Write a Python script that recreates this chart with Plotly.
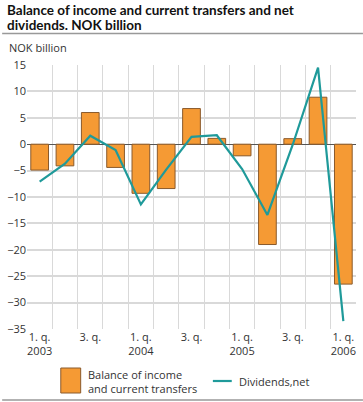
import plotly.graph_objects as go

quarters = ["1. q. 2003", "2. q. 2003", "3. q. 2003", "4. q. 2003",
            "1. q. 2004", "2. q. 2004", "3. q. 2004", "4. q. 2004",
            "1. q. 2005", "2. q. 2005", "3. q. 2005", "4. q. 2005",
            "1. q. 2006"]
balance = [-4.9, -4.1, 6.0, -4.4, -9.3, -8.4, 6.75, 1.1, -2.2, -19.0, 1.05, 8.9, -26.5]
dividends = [-7.1, -3.7, 1.6, -1.1, -11.4, -4.8, 1.4, 1.7, -4.7, -13.4, -0.1, 14.5, -33.5]
tick_labels = ["1. q.<br>2003", "3. q.", "1. q.<br>2004", "3. q.", "1. q.<br>2005", "3. q.", "1. q.<br>2006"]
y_ticks = [15, 10, 5, 0, -5, -10, -15, -20, -25, -30, -35]

FONT = "Open Sans"
ORANGE = "#f59a34"
TEAL = "#1f9a9a"
GRID = "#d9d9d9"

xs = list(range(len(quarters)))

fig = go.Figure()
fig.add_trace(go.Bar(x=xs, y=balance, width=0.7, marker=dict(color=ORANGE, line=dict(color="#8a5a2c", width=1)),
                     name="Balance of income and current transfers", showlegend=False))
fig.add_trace(go.Scatter(x=xs, y=dividends, mode="lines", line=dict(color=TEAL, width=2.2),
                         name="Dividends,net", showlegend=False))
fig.add_trace(go.Scatter(x=[0], y=[0], xaxis="x2", mode="markers", marker=dict(opacity=0),
                         showlegend=False, hoverinfo="skip"))

fig.update_layout(
    width=363, height=402,
    margin=dict(l=25, r=7, t=65, b=73),
    paper_bgcolor="white", plot_bgcolor="white",
    font=dict(family=FONT, size=11, color="#333333"),
    xaxis=dict(range=[-0.5, 12.5], tickvals=[i - 0.5 for i in range(14)], ticktext=[""] * 14,
               showgrid=True, gridcolor=GRID, gridwidth=1, zeroline=False, showline=False, ticks=""),
    xaxis2=dict(range=[-0.5, 12.5], overlaying="x", side="bottom", tickvals=xs[::2], ticktext=tick_labels,
                showgrid=False, zeroline=False, ticks="", tickfont=dict(size=11, color="#333333")),
    yaxis=dict(range=[-35, 15], tickvals=y_ticks, showgrid=True, gridcolor=GRID, gridwidth=1.5,
               zeroline=True, zerolinecolor="#555555", zerolinewidth=1, ticks="", showline=False,
               tickfont=dict(size=11, color="#333333")),
)

def px(x):
    return (x - 25) / 331

def py(y):
    return (329 - y) / 264

shapes = [
    dict(type="line", xref="paper", yref="paper", x0=px(0), x1=px(363), y0=py(33.5), y1=py(33.5),
         line=dict(color="#999999", width=1.5)),
    dict(type="line", xref="paper", yref="paper", x0=px(0), x1=px(363), y0=py(400), y1=py(400),
         line=dict(color="#999999", width=1.5)),
    dict(type="rect", xref="paper", yref="paper", x0=px(59), x1=px(79), y0=py(393), y1=py(368),
         fillcolor=ORANGE, line=dict(color="#8a5a2c", width=1)),
    dict(type="line", xref="paper", yref="paper", x0=px(212), x1=px(231), y0=py(381), y1=py(381),
         line=dict(color=TEAL, width=2.2)),
]
fig.update_layout(shapes=shapes)

title_font = dict(size=13.5, color="#111111", family="Lato")
annotations = [
    dict(text="<b>Balance of income and current transfers and net</b>",
         xref="paper", yref="paper", x=px(3), y=py(9.5), xanchor="left", yanchor="middle", align="left",
         showarrow=False, font=title_font),
    dict(text="<b>dividends. NOK billion</b>",
         xref="paper", yref="paper", x=px(3), y=py(25.5), xanchor="left", yanchor="middle", align="left",
         showarrow=False, font=title_font),
    dict(text="NOK billion", xref="paper", yref="paper", x=px(5), y=py(48), xanchor="left", yanchor="middle",
         showarrow=False, font=dict(size=11, color="#333333")),
    dict(text="Balance of income<br>and current transfers", xref="paper", yref="paper", x=px(84), y=py(381),
         xanchor="left", yanchor="middle", align="left", showarrow=False, font=dict(size=11, color="#333333")),
    dict(text="Dividends,net", xref="paper", yref="paper", x=px(236), y=py(381),
         xanchor="left", yanchor="middle", align="left", showarrow=False, font=dict(size=11, color="#333333")),
]
fig.update_layout(annotations=annotations)

fig.write_html("out.html", config={"displayModeBar": False},
               post_script="document.body.style.margin='0';document.body.style.overflow='hidden';")
